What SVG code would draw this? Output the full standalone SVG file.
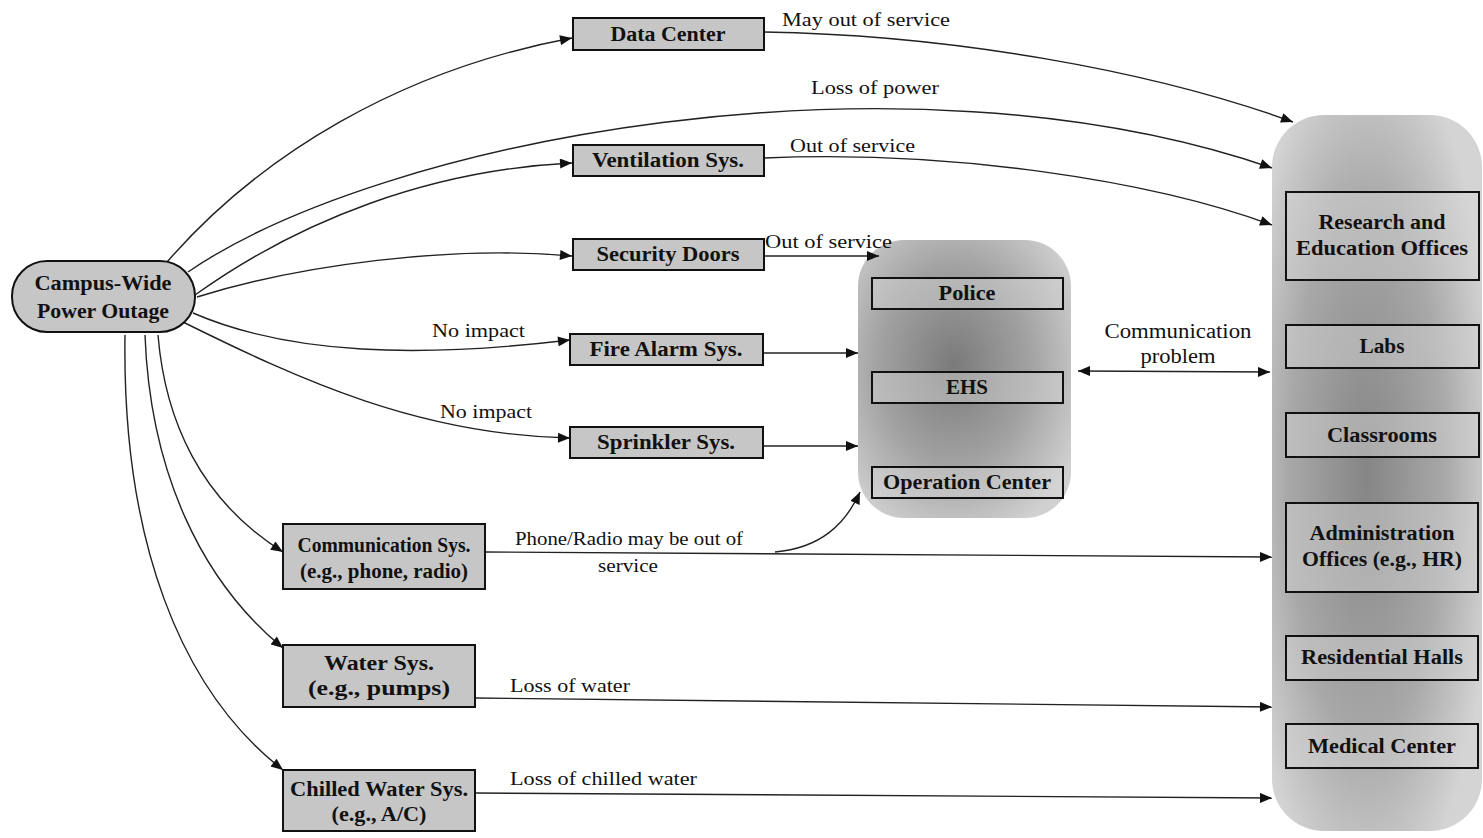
<svg xmlns="http://www.w3.org/2000/svg" width="1483" height="838" viewBox="0 0 1483 838">
  <style>
    .node { fill: #c6c6c6; stroke: #111; stroke-width: 2; }
    .inner { fill: #d6d6d6; fill-opacity: 0.45; stroke: #111; stroke-width: 2; }
    .edge { fill: none; stroke: #222; stroke-width: 1.4; }
    text { font-family: "Liberation Serif", "Times New Roman", serif; fill: #111; }
    .b { font-weight: bold; font-size: 20px; text-anchor: middle; }
    .l { font-size: 19px; }
    .lm { font-size: 19px; text-anchor: middle; }
    .sm { font-size: 18px; }
    .big { font-size: 20px; }
  </style>
  <defs>
    <marker id="arr" viewBox="0 0 12 10" refX="12" refY="5" markerWidth="13" markerHeight="10" markerUnits="userSpaceOnUse" orient="auto">
      <path d="M0,0 L12,5 L0,10 Z" fill="#111"/>
    </marker>
    <marker id="arrStart" viewBox="0 0 12 10" refX="0" refY="5" markerWidth="13" markerHeight="10" markerUnits="userSpaceOnUse" orient="auto">
      <path d="M12,0 L0,5 L12,10 Z" fill="#111"/>
    </marker>
    <radialGradient id="gCenter" cx="0.45" cy="0.45" r="0.65">
      <stop offset="0" stop-color="#7a7a7a"/>
      <stop offset="0.55" stop-color="#a2a2a2"/>
      <stop offset="1" stop-color="#d0d0d0"/>
    </radialGradient>
    <radialGradient id="gRight" cx="0.45" cy="0.5" r="0.62">
      <stop offset="0" stop-color="#858585"/>
      <stop offset="0.6" stop-color="#a8a8a8"/>
      <stop offset="1" stop-color="#d4d4d4"/>
    </radialGradient>
  </defs>

  <rect width="1483" height="838" fill="#ffffff"/>

  <!-- shaded containers -->
  <g id="response-group">
    <rect x="858" y="240" width="213" height="278" rx="46" fill="url(#gCenter)"/>
  </g>
  <g id="occupant-group">
    <rect x="1272" y="115" width="210" height="716" rx="52" fill="url(#gRight)"/>
  </g>

  <!-- connectors -->
  <g id="connectors">
    <path class="edge" d="M167,262 C260,155 400,70 572,38" marker-end="url(#arr)"/>
    <path class="edge" d="M188,272 C380,140 900,40 1272,168" marker-end="url(#arr)"/>
    <path class="edge" d="M195,295 C300,220 430,170 572,163" marker-end="url(#arr)"/>
    <path class="edge" d="M197,297 C300,265 450,245 572,256" marker-end="url(#arr)"/>
    <path class="edge" d="M193,313 C290,355 420,358 570,340" marker-end="url(#arr)"/>
    <path class="edge" d="M183,322 C300,380 420,435 570,438" marker-end="url(#arr)"/>
    <path class="edge" d="M158,335 C165,420 200,500 283,552" marker-end="url(#arr)"/>
    <path class="edge" d="M145,335 C150,470 200,580 283,648" marker-end="url(#arr)"/>
    <path class="edge" d="M125,335 C122,540 180,690 283,770" marker-end="url(#arr)"/>

    <path class="edge" d="M764,32 C950,35 1150,70 1293,122" marker-end="url(#arr)"/>
    <path class="edge" d="M764,158 C950,150 1150,180 1272,225" marker-end="url(#arr)"/>
    <path class="edge" d="M764,256 L879,256" marker-end="url(#arr)"/>
    <path class="edge" d="M763,353 L858,353" marker-end="url(#arr)"/>
    <path class="edge" d="M763,446 L858,446" marker-end="url(#arr)"/>

    <path class="edge" d="M485,552 L1272,557" marker-end="url(#arr)"/>
    <path class="edge" d="M775,552 C820,548 845,525 860,492" marker-end="url(#arr)"/>
    <path class="edge" d="M475,698 L1272,707" marker-end="url(#arr)"/>
    <path class="edge" d="M475,793 L1272,798" marker-end="url(#arr)"/>

    <path class="edge" d="M1078,371 L1270,372" marker-start="url(#arrStart)" marker-end="url(#arr)"/>

    <text class="l" x="782" y="26" textLength="168" lengthAdjust="spacingAndGlyphs">May out of service</text>
    <text class="lm" x="875" y="94" textLength="128" lengthAdjust="spacingAndGlyphs">Loss of power</text>
    <text class="l" x="790" y="152" textLength="125" lengthAdjust="spacingAndGlyphs">Out of service</text>
    <text class="l" x="765" y="248" textLength="127" lengthAdjust="spacingAndGlyphs">Out of service</text>
    <text class="l" x="432" y="337" textLength="93" lengthAdjust="spacingAndGlyphs">No impact</text>
    <text class="l" x="440" y="418" textLength="92" lengthAdjust="spacingAndGlyphs">No impact</text>
    <text class="lm sm" x="629" y="545" textLength="228" lengthAdjust="spacingAndGlyphs">Phone/Radio may be out of</text>
    <text class="lm sm" x="628" y="572" textLength="60" lengthAdjust="spacingAndGlyphs">service</text>
    <text class="l" x="510" y="692" textLength="120" lengthAdjust="spacingAndGlyphs">Loss of water</text>
    <text class="l" x="510" y="785" textLength="187" lengthAdjust="spacingAndGlyphs">Loss of chilled water</text>
    <text class="lm big" x="1178" y="338" textLength="147" lengthAdjust="spacingAndGlyphs">Communication</text>
    <text class="lm big" x="1178" y="363" textLength="75" lengthAdjust="spacingAndGlyphs">problem</text>
  </g>

  <!-- source node -->
  <g id="campus-outage">
    <rect class="node" x="12" y="261" width="183" height="71" rx="35"/>
    <text class="b" x="103" y="290" textLength="137" lengthAdjust="spacingAndGlyphs">Campus-Wide</text>
    <text class="b" x="103" y="318" textLength="132" lengthAdjust="spacingAndGlyphs">Power Outage</text>
  </g>

  <!-- affected systems -->
  <g id="data-center">
    <rect class="node" x="573" y="18" width="191" height="32"/>
    <text class="b" x="668" y="41" textLength="115" lengthAdjust="spacingAndGlyphs">Data Center</text>
  </g>
  <g id="ventilation">
    <rect class="node" x="573" y="145" width="191" height="31"/>
    <text class="b" x="668" y="167" textLength="152" lengthAdjust="spacingAndGlyphs">Ventilation Sys.</text>
  </g>
  <g id="security-doors">
    <rect class="node" x="573" y="239" width="191" height="31"/>
    <text class="b" x="668" y="261" textLength="143" lengthAdjust="spacingAndGlyphs">Security Doors</text>
  </g>
  <g id="fire-alarm">
    <rect class="node" x="570" y="334" width="193" height="31"/>
    <text class="b" x="666" y="356" textLength="153" lengthAdjust="spacingAndGlyphs">Fire Alarm Sys.</text>
  </g>
  <g id="sprinkler">
    <rect class="node" x="570" y="427" width="193" height="31"/>
    <text class="b" x="666" y="449" textLength="138" lengthAdjust="spacingAndGlyphs">Sprinkler Sys.</text>
  </g>
  <g id="communication">
    <rect class="node" x="283" y="524" width="202" height="65"/>
    <text class="b" x="384" y="552" textLength="173" lengthAdjust="spacingAndGlyphs">Communication Sys.</text>
    <text class="b" x="384" y="578" textLength="168" lengthAdjust="spacingAndGlyphs">(e.g., phone, radio)</text>
  </g>
  <g id="water">
    <rect class="node" x="283" y="645" width="192" height="62"/>
    <text class="b" x="379" y="670" textLength="110" lengthAdjust="spacingAndGlyphs">Water Sys.</text>
    <text class="b" x="379" y="695" textLength="142" lengthAdjust="spacingAndGlyphs">(e.g., pumps)</text>
  </g>
  <g id="chilled-water">
    <rect class="node" x="283" y="770" width="192" height="61"/>
    <text class="b" x="379" y="796" textLength="178" lengthAdjust="spacingAndGlyphs">Chilled Water Sys.</text>
    <text class="b" x="379" y="821" textLength="95" lengthAdjust="spacingAndGlyphs">(e.g., A/C)</text>
  </g>

  <!-- emergency response units -->
  <g id="police">
    <rect class="inner" x="872" y="278" width="191" height="31"/>
    <text class="b" x="967" y="300" textLength="57" lengthAdjust="spacingAndGlyphs">Police</text>
  </g>
  <g id="ehs">
    <rect class="inner" x="872" y="372" width="191" height="31"/>
    <text class="b" x="967" y="394" textLength="42" lengthAdjust="spacingAndGlyphs">EHS</text>
  </g>
  <g id="operation-center">
    <rect class="inner" x="872" y="467" width="191" height="31"/>
    <text class="b" x="967" y="489" textLength="168" lengthAdjust="spacingAndGlyphs">Operation Center</text>
  </g>

  <!-- campus occupants -->
  <g id="research-offices">
    <rect class="inner" x="1286" y="192" width="193" height="88"/>
    <text class="b" x="1382" y="229" textLength="127" lengthAdjust="spacingAndGlyphs">Research and</text>
    <text class="b" x="1382" y="255" textLength="172" lengthAdjust="spacingAndGlyphs">Education Offices</text>
  </g>
  <g id="labs">
    <rect class="inner" x="1286" y="325" width="193" height="43"/>
    <text class="b" x="1382" y="353" textLength="45" lengthAdjust="spacingAndGlyphs">Labs</text>
  </g>
  <g id="classrooms">
    <rect class="inner" x="1286" y="413" width="193" height="44"/>
    <text class="b" x="1382" y="442" textLength="110" lengthAdjust="spacingAndGlyphs">Classrooms</text>
  </g>
  <g id="admin-offices">
    <rect class="inner" x="1286" y="503" width="192" height="89"/>
    <text class="b" x="1382" y="540" textLength="145" lengthAdjust="spacingAndGlyphs">Administration</text>
    <text class="b" x="1382" y="566" textLength="160" lengthAdjust="spacingAndGlyphs">Offices (e.g., HR)</text>
  </g>
  <g id="residential-halls">
    <rect class="inner" x="1286" y="636" width="192" height="44"/>
    <text class="b" x="1382" y="664" textLength="162" lengthAdjust="spacingAndGlyphs">Residential Halls</text>
  </g>
  <g id="medical-center">
    <rect class="inner" x="1286" y="724" width="192" height="44"/>
    <text class="b" x="1382" y="753" textLength="148" lengthAdjust="spacingAndGlyphs">Medical Center</text>
  </g>
</svg>
